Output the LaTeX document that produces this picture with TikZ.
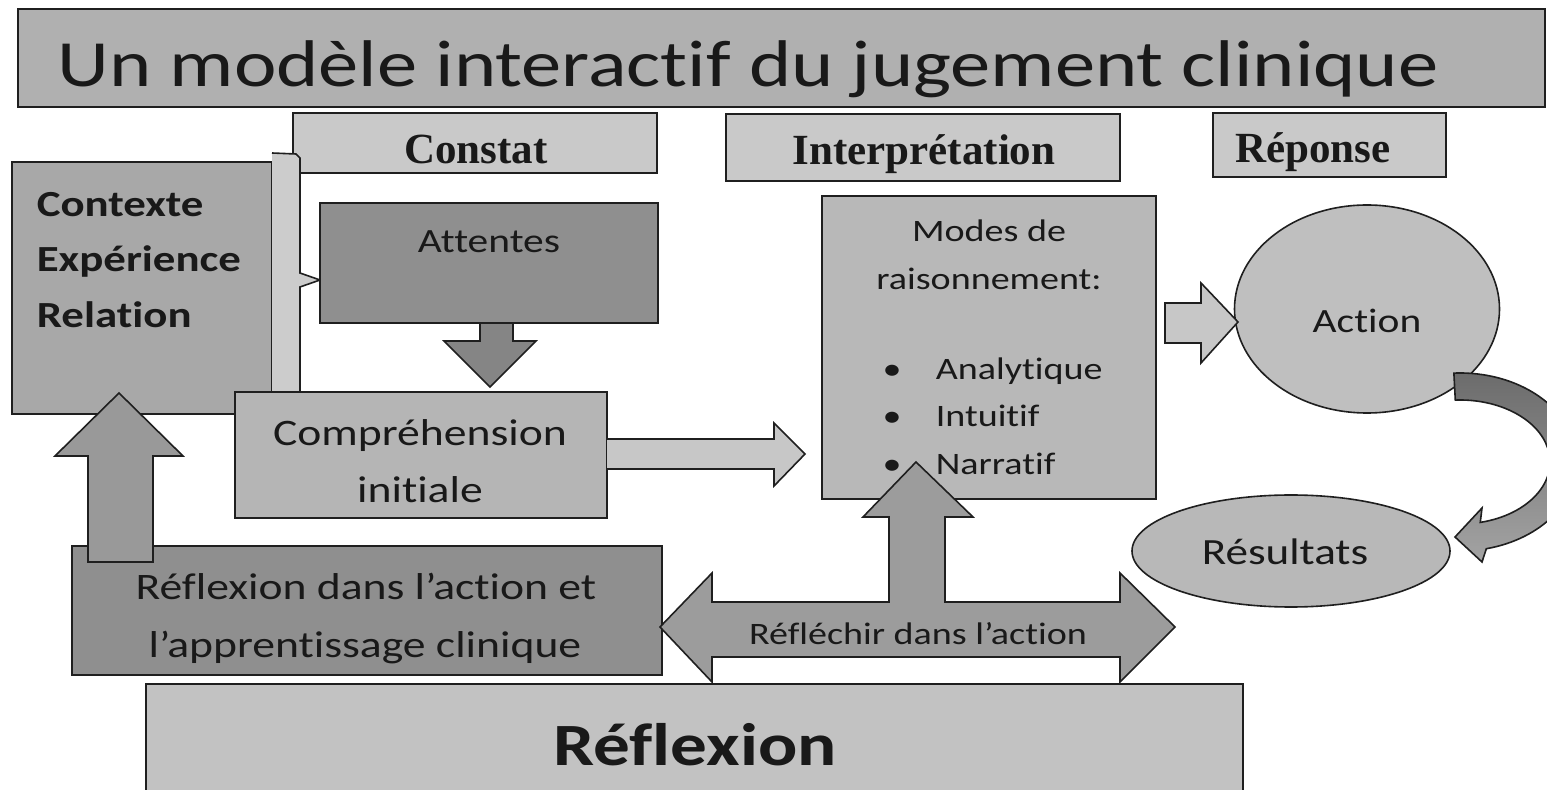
\documentclass[tikz,border=0pt]{standalone}
\usepackage{fontspec}
\setmainfont{Carlito}[FakeStretch=1.22,Ligatures={NoCommon}]
\newfontfamily\hdfont{Liberation Serif}
\usetikzlibrary{shapes.geometric,fit,calc}
\definecolor{gTitle}{gray}{0.69}
\definecolor{gHead}{gray}{0.79}
\definecolor{gCtx}{gray}{0.66}
\definecolor{gDark}{gray}{0.56}
\definecolor{gComp}{gray}{0.71}
\definecolor{gModes}{gray}{0.72}
\definecolor{gAction}{gray}{0.75}
\definecolor{gRes}{gray}{0.72}
\definecolor{gRefl}{gray}{0.76}
\definecolor{gBrace}{gray}{0.80}
\definecolor{aDown}{gray}{0.52}
\definecolor{aUp}{gray}{0.60}
\definecolor{aRight}{gray}{0.78}
\definecolor{aDouble}{gray}{0.61}
\definecolor{cTop}{gray}{0.42}
\definecolor{cBot}{gray}{0.64}
\definecolor{txt}{gray}{0.1}
\definecolor{edge}{gray}{0.12}
\begin{document}
\begin{tikzpicture}[x=0.5pt,y=-0.5pt,line width=0.8pt,
  box/.style={draw=edge,inner sep=0pt},
  blockarrow/.style={draw=edge,line join=miter},
  lbl/.style={text=txt,inner sep=0pt,anchor=base},
  hd/.style={lbl,font=\hdfont\bfseries\fontsize{21.5}{26}\selectfont},
  mid/.style={lbl,font=\fontsize{18.7}{22}\selectfont},
  small/.style={lbl,font=\fontsize{15.6}{19}\selectfont}]
\useasboundingbox (0,0) rectangle (1547,790);
\clip (0,0) rectangle (1547,790);
\fill[white] (0,0) rectangle (1547,790);
% title
\node[box,fill=gTitle,fit={(18,9)(1545,107)}] (title) {};
\node[lbl,font=\fontsize{33}{40}\selectfont] (titletext) at (748,87) {Un modèle interactif du jugement clinique};
% headers
\node[box,fill=gHead,fit={(293,113)(657,173)}] (constat) {};
\node[hd] (constattext) at (476,164) {Constat};
\node[box,fill=gHead,fit={(726,114)(1120,181)}] (interp) {};
\node[hd] (interptext) at (924,165) {Interprétation};
\node[box,fill=gHead,fit={(1213,113)(1446,177)}] (reponse) {};
\node[hd] (reponsetext) at (1313,163) {Réponse};
% contexte
\node[box,fill=gCtx,fit={(12,162)(272,414)}] (ctx) {};
\fill[gBrace] (272,153) -- (296,154) -- (300,158) -- (300,273) -- (320,280) -- (300,287) -- (300,392) -- (272,392) -- cycle;
\draw[edge] (272,153) -- (296,154) -- (300,158) -- (300,273) -- (320,280) -- (300,287) -- (300,392);
\node[lbl,anchor=base west,font=\bfseries\fontsize{18.4}{22}\selectfont] (ctx1) at (36,217) {Contexte};
\node[lbl,anchor=base west,font=\bfseries\fontsize{18.4}{22}\selectfont] (ctx2) at (36,272) {Expérience};
\node[lbl,anchor=base west,font=\bfseries\fontsize{18.4}{22}\selectfont] (ctx3) at (36,328) {Relation};
% attentes
\node[box,fill=gDark,fit={(320,203)(658,323)}] (att) {};
\node[mid,font=\fontsize{17}{20}\selectfont] (atttext) at (489,253) {Attentes};
\draw[blockarrow,fill=aDown] (480,323) -- (480,341) -- (444,341) -- (490,387) -- (536,341) -- (513,341) -- (513,323) -- cycle;
% comprehension
\node[box,fill=gComp,fit={(235,392)(607,518)}] (comp) {};
\node[mid] (comp1) at (420,446) {Compréhension};
\node[mid] (comp2) at (420,503) {initiale};
% modes
\node[box,fill=gModes,fit={(822,196)(1156,499)}] (modes) {};
\node[small] (modes1) at (989,242) {Modes de};
\node[small] (modes2) at (989,290) {raisonnement:};
\node[small] (b1) at (892,380) {•};
\node[small] (b2) at (892,427) {•};
\node[small] (b3) at (892,475) {•};
\node[small,anchor=base west] (m1) at (935,380) {Analytique};
\node[small,anchor=base west] (m2) at (935,427) {Intuitif};
\node[small,anchor=base west] (m3) at (935,475) {Narratif};
% arrow comp -> modes
\draw[blockarrow,fill=aRight] (607,439) -- (774,439) -- (774,423) -- (805,454) -- (774,486) -- (774,469) -- (607,469);
% action & resultats
\node[box,ellipse,fill=gAction,minimum width=132.5pt,minimum height=104pt] (action) at (1367,309) {};
\node[lbl,font=\fontsize{17}{20}\selectfont] (actiontext) at (1367,333) {Action};
\draw[blockarrow,fill=aRight] (1165,303) -- (1201,303) -- (1201,283) -- (1238,322) -- (1201,363) -- (1201,343) -- (1165,343) -- cycle;
\node[box,ellipse,fill=gRes,minimum width=159pt,minimum height=56pt] (res) at (1291,551) {};
\node[lbl,font=\fontsize{18.5}{22}\selectfont] (restext) at (1285,565) {Résultats};
% curved arrow action -> resultats
\coordinate (cc) at (1460,462);
\path[draw=edge,top color=cTop,bottom color=cBot]
  ($(cc)+(-93:117 and 89)$) arc[start angle=-93,end angle=77,x radius=117,y radius=89]
  -- (1482,562) -- (1455,537) -- (1482,508)
  -- ($(cc)+(77:90 and 62)$) arc[start angle=77,end angle=-93,x radius=90,y radius=62] -- cycle;
% reflexion dans l'action box
\node[box,fill=gDark,fit={(72,546)(662,675)}] (rda) {};
\node[mid] (rda1) at (366,600) {Réflexion dans l’action et};
\node[mid] (rda2) at (365,657) {l’apprentissage clinique};
\draw[blockarrow,fill=aUp] (88,562) -- (88,456) -- (55,456) -- (119,393) -- (183,456) -- (153,456) -- (153,562) -- cycle;
% big reflexion box
\node[box,fill=gRefl,fit={(146,684)(1243,796)}] (refl) {};
\node[lbl,font=\bfseries\fontsize{30}{36}\selectfont] (refltext) at (695,765) {Réflexion};
% double arrow with up branch
\draw[blockarrow,fill=aDouble] (660,627) -- (712,573) -- (712,602) -- (889,602) -- (889,517) -- (863,517) -- (916,462) -- (973,517) -- (945,517) -- (945,602) -- (1120,602) -- (1120,573) -- (1175,627) -- (1120,682) -- (1120,657) -- (712,657) -- (712,682) -- cycle;
\node[small] (rdatext) at (918,645) {Réfléchir dans l’action};
\end{tikzpicture}
\end{document}
